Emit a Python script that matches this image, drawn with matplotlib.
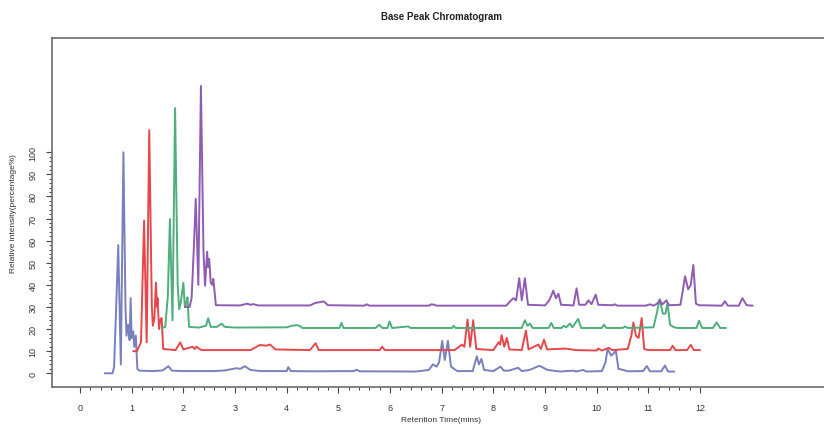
import numpy as np
import matplotlib
matplotlib.use('Agg')
import matplotlib.pyplot as plt
from matplotlib.ticker import FixedLocator

plt.rcParams['font.family'] = ['Liberation Sans', 'DejaVu Sans']

# each sample relative to its own time axis and baseline (min, % of base peak)
blue_t = [0.48, 0.63, 0.66, 0.70, 0.74, 0.79, 0.84, 0.88, 0.90, 0.93, 0.96, 0.98, 1.00, 1.03, 1.05, 1.08, 1.11,
          1.15, 1.40, 1.60, 1.71, 1.78, 2.0, 2.3, 2.6, 2.8, 3.03, 3.10, 3.19, 3.30, 3.5, 4.0, 4.03, 4.08, 4.5,
          5.3, 5.35, 5.42, 6.5, 6.75, 6.83, 6.90, 6.95, 7.01, 7.06, 7.12, 7.18, 7.3, 7.6, 7.68, 7.72, 7.77,
          7.82, 8.0, 8.10, 8.14, 8.2, 8.3, 8.48, 8.55, 8.7, 8.89, 9.05, 9.3, 9.55, 9.6, 9.74, 9.8, 10.1,
          10.17, 10.21, 10.28, 10.33, 10.37, 10.42, 10.52, 10.6, 10.9, 10.97, 11.03, 11.25, 11.32, 11.38, 11.5]
blue_i = [0.0, 0.0, 3, 30, 58, 4, 100, 30, 17, 22, 15, 34, 16, 19, 12, 17, 2,
          1.2, 1.0, 1.3, 3.2, 1.2, 1.0, 1.0, 1.0, 1.3, 2.3, 2.0, 3.2, 1.5, 1.0, 1.0, 2.8, 1.0, 0.9,
          1.0, 1.6, 0.9, 0.8, 1.5, 4, 3, 5, 14.7, 6, 14.7, 3, 1.0, 1.0, 7.7, 4, 6.5,
          1.5, 1.0, 2.5, 3, 1.2, 1.2, 2.5, 1.0, 1.5, 3.4, 1.5, 0.8, 1.2, 0.8, 1.5, 0.8, 1.0,
          5, 11, 8, 9, 10.5, 2, 1.5, 0.9, 1.0, 3.3, 0.9, 0.9, 3.5, 0.8, 0.8]

red_t = [0.53, 0.60, 0.68, 0.74, 0.79, 0.84, 0.89, 0.91, 0.94, 0.97, 0.99, 1.00, 1.03, 1.05, 1.08, 1.11,
         1.35, 1.44, 1.50, 1.68, 1.72, 1.75, 1.85, 2.8, 2.98, 3.10, 3.18, 3.28, 3.95, 4.06, 4.12, 5.3, 5.35,
         5.4, 6.75, 6.89, 6.94, 7.00, 7.05, 7.11, 7.17, 7.5, 7.6, 7.63, 7.66, 7.71, 7.76, 7.81, 8.05, 8.13,
         8.18, 8.37, 8.42, 8.48, 8.54, 8.89, 9.1, 9.5, 9.53, 9.6, 9.73, 9.8, 10.1, 10.17, 10.21, 10.26, 10.31,
         10.37, 10.42, 10.5, 10.92, 10.97, 11.02, 11.25, 11.32, 11.38, 11.5]
red_i = [0.0, 0.0, 4, 59, 4, 100, 20, 11.5, 15, 31, 20, 24, 10, 14, 15, 1,
         0.5, 4, 0.8, 2, 1, 2, 0.5, 0.5, 2.8, 2.5, 3, 0.8, 0.5, 3.6, 0.5, 0.5, 2,
         0.5, 0.5, 3, 2, 14.3, 2, 14, 1, 0.5, 4, 3, 7.3, 2, 6, 0.8, 0.5, 9.3,
         0.8, 3, 1, 5.2, 0.8, 1.2, 0.5, 0.3, 1.2, 0.3, 1.5, 0.5, 1, 7, 13, 7, 6,
         15, 1, 0.5, 0.5, 2.5, 0.5, 0.5, 2.9, 0.5, 0.5]

green_t = [0.58, 0.65, 0.70, 0.74, 0.79, 0.84, 0.89, 0.92, 0.95, 1.00, 1.03, 1.06, 1.08, 1.11, 1.3, 1.44,
           1.48, 1.53, 1.65, 1.74, 1.8, 2.0, 3.0, 3.1, 3.2, 3.27, 3.3, 4.02, 4.06, 4.1, 4.72, 4.79, 4.85,
           4.95, 4.99, 5.04, 5.35, 5.4, 6.2, 6.23, 6.27, 7.55, 7.61, 7.66, 7.71, 7.76, 8.07, 8.12, 8.17,
           8.32, 8.36, 8.41, 8.48, 8.53, 8.64, 8.7, 9.1, 9.14, 9.19, 9.5, 9.55, 9.6, 10.1, 10.17, 10.22,
           10.28, 10.33, 10.37, 10.42, 10.48, 10.55, 10.93, 10.98, 11.04, 11.25, 11.32, 11.39, 11.5]
green_i = [0.4, 1, 15, 49.8, 4, 100, 20, 9, 12, 20.9, 10, 12, 14.4, 1, 0.7, 1.5,
           4.9, 1, 1, 2.5, 1, 0.7, 0.8, 1.5, 1.8, 1.2, 0.5, 0.5, 2.8, 0.5, 0.5, 2, 0.5,
           0.5, 3.5, 0.5, 1.2, 0.5, 0.5, 1.5, 0.5, 0.5, 4, 1.5, 2.5, 0.5, 0.5, 2.8, 0.5,
           0.5, 1.5, 0.8, 2.5, 0.8, 4.6, 0.5, 0.5, 2, 0.5, 0.5, 1.2, 0.5, 0.8, 8, 13.6,
           7, 7, 11.7, 2, 1, 0.5, 0.5, 3.8, 0.5, 0.5, 3, 0.5, 0.5]

purple_t = [0.53, 0.62, 0.66, 0.70, 0.74, 0.79, 0.84, 0.89, 0.92, 0.96, 0.98, 1.00, 1.03, 1.06, 1.08, 1.13,
            1.6, 1.73, 1.8, 1.85, 1.95, 2.95, 3.05, 3.14, 3.22, 3.3, 4.0, 4.05, 4.1, 5.25, 5.3, 5.36, 5.4,
            6.75, 6.84, 6.89, 6.94, 7.00, 7.05, 7.11, 7.17, 7.5, 7.58, 7.62, 7.66, 7.71, 7.76, 7.81, 8.05,
            8.11, 8.16, 8.28, 8.34, 8.4, 8.48, 8.53, 8.8, 8.85, 8.9, 9.45, 9.53, 9.6, 9.67, 9.72, 9.77, 9.85,
            9.9, 10.12, 10.17, 10.21, 10.27, 10.32, 10.37, 10.42, 10.48, 10.92, 10.98, 11.04, 11.25, 11.32,
            11.4, 11.52]
purple_i = [0.0, 0.0, 4, 25, 48.9, 10, 100, 25, 9.6, 25, 18, 21.7, 11, 10, 12.7, 0.8,
            0.7, 1.5, 1, 1.3, 0.7, 0.7, 1.8, 2.2, 2.5, 0.8, 0.6, 1.2, 0.6, 0.6, 1.2, 1, 0.6,
            0.6, 3, 4, 3, 13, 3, 13, 1, 0.7, 3, 5, 7.4, 4, 6, 1, 0.7,
            8.4, 1, 1, 3, 1.3, 5.6, 1, 0.8, 1.2, 0.6, 0.6, 1.2, 0.6, 1.5, 3, 1.2, 3,
            0.8, 1, 8, 13.9, 8, 10, 19, 1.5, 0.8, 0.6, 2.6, 0.6, 0.6, 4,
            0.8, 0.6]

samples = [(blue_t, blue_i), (red_t, red_i), (green_t, green_i), (purple_t, purple_i)]
colors = ['#7880bd', '#e6474b', '#4fae7c', '#8f5bb3']
time_shift = [0.0, 0.5, 1.0, 1.5]
level_shift = [0, 10, 20, 30]

fig = plt.figure(figsize=(8.24, 4.35), dpi=100)
ax = fig.add_axes([52/824, 47/435, 778/824, 349/435])

for (t, y), c, dx, dy in zip(samples, colors, time_shift, level_shift):
    ax.plot(np.array(t) + dx, np.array(y) + dy, color=c, lw=1.4,
            solid_joinstyle='round', solid_capstyle='round')

ax.set_xlim(-0.542, 14.515)
ax.set_ylim(-6.2, 151.7)

ax.xaxis.set_major_locator(FixedLocator(np.arange(0, 13, 1)))
ax.xaxis.set_minor_locator(FixedLocator(np.arange(0, 12.01, 0.2)))
ax.yaxis.set_major_locator(FixedLocator(np.arange(0, 101, 10)))
ax.yaxis.set_minor_locator(FixedLocator(np.arange(0, 100.1, 2)))

for s in ['left', 'top', 'bottom']:
    ax.spines[s].set_color('#777777')
    ax.spines[s].set_linewidth(1.3)
ax.spines['right'].set_visible(False)

ax.tick_params(axis='both', which='major', length=4.5, width=0.8, color='#444444',
               labelsize=6.5, labelcolor='#333333')
ax.tick_params(axis='both', which='minor', length=2.2, width=0.7, color='#444444')
ax.tick_params(axis='x', which='major', pad=7)
ax.tick_params(axis='y', which='major', pad=6)
plt.setp(ax.get_yticklabels(), rotation=90, va='center')

ax.set_title('Base Peak Chromatogram', fontsize=7, fontweight='bold', color='#222222', pad=14)
ax.set_xlabel('Retention Time(mins)', fontsize=6, color='#333333', labelpad=3)
ax.set_ylabel('Relative intensity(percentage%)', fontsize=6, color='#333333', labelpad=8)

fig.savefig('out.png', dpi=100)
